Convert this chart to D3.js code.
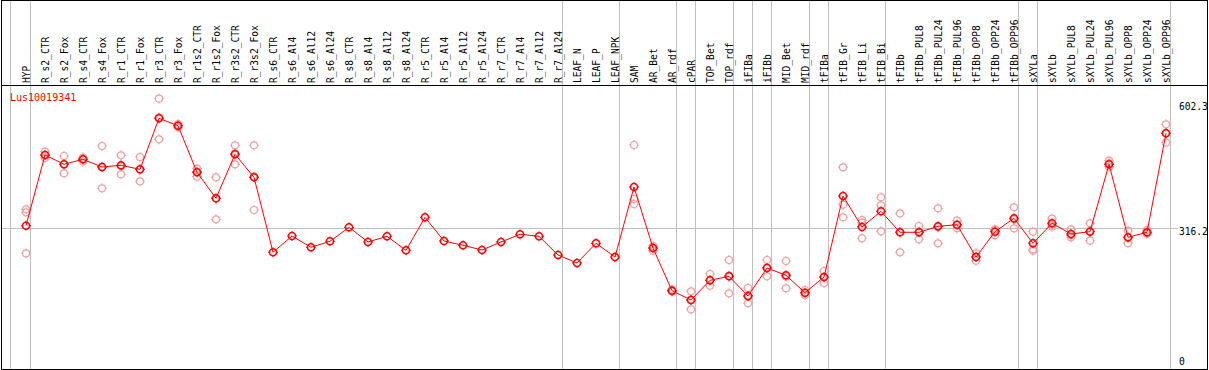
<!DOCTYPE html>
<html><head><meta charset="utf-8">
<script src="https://cdn.jsdelivr.net/npm/d3@7"></script>
<style>html,body{margin:0;padding:0;background:#fff;}svg{display:block;}</style>
</head><body>
<script>
const categories = ["HYP","R_s2_CTR","R_s2_Fox","R_s4_CTR","R_s4_Fox","R_r1_CTR","R_r1_Fox","R_r3_CTR","R_r3_Fox","R_r1s2_CTR","R_r1s2_Fox","R_r3s2_CTR","R_r3s2_Fox","R_s6_CTR","R_s6_Al4","R_s6_Al12","R_s6_Al24","R_s8_CTR","R_s8_Al4","R_s8_Al12","R_s8_Al24","R_r5_CTR","R_r5_Al4","R_r5_Al12","R_r5_Al24","R_r7_CTR","R_r7_Al4","R_r7_Al12","R_r7_Al24","LEAF_N","LEAF_P","LEAF_NPK","SAM","AR_Bet","AR_rdf","cPAR","TOP_Bet","TOP_rdf","iFIBa","iFIBb","MID_Bet","MID_rdf","tFIBa","tFIB_Gr","tFIB_Li","tFIB_Bi","tFIBb","tFIBb_PUL8","tFIBb_PUL24","tFIBb_PUL96","tFIBb_OPP8","tFIBb_OPP24","tFIBb_OPP96","sXYLa","sXYLb","sXYLb_PUL8","sXYLb_PUL24","sXYLb_PUL96","sXYLb_OPP8","sXYLb_OPP24","sXYLb_OPP96"];

const means = [322.4,478.2,457.7,468.7,451.7,455.5,446.6,559.0,542.7,440.0,382.7,479.7,429.0,263.8,299.7,274.8,288.0,318.8,286.5,299.0,268.2,340.9,288.7,279.2,268.8,286.5,303.4,299.0,257.8,240.2,283.6,253.4,407.6,273.2,179.1,158.7,202.1,210.9,167.5,229.2,213.1,174.7,209.3,387.8,319.5,354.1,307.8,307.8,321.0,324.6,253.4,309.2,338.7,283.6,327.7,304.1,309.2,457.7,296.8,307.8,526.0];

const replicates = [
  [358.5,351.9,261.6],[485.4,477.5,471.5],[476.0,457.7,437.8],[472.7,469.3,463.8],[498.0,451.7,404.8],
  [477.5,453.3,435.6],[473.8,446.0,420.2],[602.3,561.2,512.8],[546.5,542.7,539.2],[448.0,441.4,430.3],
  [429.0,382.7,336.5],[499.5,481.9,457.7],[499.5,430.3,357.0],
  [],[],[],[],[],[],[],[],[],[],[],[],[],[],[],[],[],[],[],
  [500.2,381.2,370.2],[277.6,273.2,267.3],[181.8,179.1,177.4],[177.8,158.7,138.2],[215.9,202.1,190.2],
  [246.8,212.5,173.4],[185.1,166.0,151.4],[246.8,229.9,210.9],[244.6,210.3,184.4],[180.7,173.7,169.7],
  [222.6,209.3,196.1],[451.1,368.6,340.9],[334.9,329.0,294.6],[384.9,367.3,310.0],[349.7,308.5,263.8],
  [321.7,309.2,292.4],[360.7,318.8,283.6],[333.4,323.9,316.6],[261.6,253.4,245.3],[314.4,312.2,301.2],
  [362.9,336.5,316.6],[309.2,270.4,267.3],[337.8,324.6,320.2],[314.4,301.2,296.8],[327.7,310.7,289.3],
  [465.6,459.9,452.4],[311.4,295.3,283.6],[312.9,305.6,304.8],[545.8,526.6,505.3]
];

const groupEnds = ["HYP","R_r7_Al24","LEAF_NPK","AR_rdf","cPAR","TOP_rdf","iFIBa","iFIBb","MID_rdf","tFIBa","tFIB_Bi","tFIBb_OPP96","sXYLa","sXYLb_OPP96"];
const yTickLabels = ["602.3","316.2","0"];
const yTickValues = [602.3, 316.2, 0];
const gridValues = [316.2];
const title = "Lus10019341";
const yMax = 632.4;

const W = 1209, H = 370;
const FONT = "'DejaVu Sans Mono', 'Liberation Mono', monospace";
const svg = d3.select("body").append("svg").attr("width", W).attr("height", H);

const x = d3.scalePoint().domain(categories).range([26, 1166]);
const y = d3.scaleLinear().domain([0, yMax]).range([372, 85]);

// group separators
const seps = [x(categories[0]) - 15.5].concat(groupEnds.map(c => x(c) + 4.5));
svg.append("g").selectAll("line").data(seps).join("line")
  .attr("x1", d => d).attr("x2", d => d).attr("y1", 0).attr("y2", H)
  .attr("stroke", "#c0c0c0").attr("stroke-width", 1).attr("shape-rendering", "crispEdges");

// horizontal gridline
svg.append("g").selectAll("line").data(gridValues).join("line")
  .attr("x1", 1).attr("x2", 1178)
  .attr("y1", d => Math.floor(y(d)) + 0.5).attr("y2", d => Math.floor(y(d)) + 0.5)
  .attr("stroke", "#c0c0c0").attr("shape-rendering", "crispEdges");

// frame
svg.append("rect").attr("x", 1.5).attr("y", 0.5).attr("width", 1206).attr("height", 369)
  .attr("fill", "none").attr("stroke", "#000").attr("shape-rendering", "crispEdges");
svg.append("line").attr("x1", 1).attr("x2", 1208).attr("y1", 85.5).attr("y2", 85.5)
  .attr("stroke", "#000").attr("shape-rendering", "crispEdges");

// category labels
svg.append("g").selectAll("text").data(categories).join("text")
  .attr("transform", d => `translate(${x(d) + 4},83) rotate(-90)`)
  .attr("font-family", FONT).attr("font-size", "9.6px").attr("fill", "#000")
  .text(d => d);

// y tick labels
const tickOffsets = [11.6, 6.5, -7];
svg.append("g").selectAll("text").data(yTickValues).join("text")
  .attr("x", 1179).attr("y", (d, i) => y(d) + tickOffsets[i])
  .attr("font-family", FONT).attr("font-size", "9.6px").attr("fill", "#000")
  .text((d, i) => yTickLabels[i]);

// title
svg.append("text").attr("x", 10).attr("y", 100.5)
  .attr("font-family", FONT).attr("font-size", "10px").attr("fill", "#ff0000").text(title);

function marker(g, cx, cy, color, sw) {
  const r = 3.5;
  g.append("circle").attr("cx", cx).attr("cy", cy).attr("r", r)
    .attr("fill", "none").attr("stroke", color).attr("stroke-width", sw);
  g.append("path")
    .attr("d", `M${cx},${cy - r - 1.5}V${cy - r}M${cx},${cy + r}V${cy + r + 1.5}M${cx - r - 1.5},${cy}H${cx - r}M${cx + r},${cy}H${cx + r + 1.5}`)
    .attr("stroke", color).attr("stroke-width", 1);
}

// replicates
const repG = svg.append("g");
categories.forEach((c, i) => {
  replicates[i].forEach(v => marker(repG, x(c), y(v), "#f0a0a0", 1.2));
});

// mean line
const line = d3.line().x((d, i) => x(categories[i])).y(d => y(d));
svg.append("path").datum(means).attr("d", line)
  .attr("fill", "none").attr("stroke", "#ff0000").attr("stroke-width", 1);

// mean markers
const meanG = svg.append("g");
means.forEach((v, i) => marker(meanG, x(categories[i]), y(v), "#ff0000", 1.6));
</script>
</body></html>
